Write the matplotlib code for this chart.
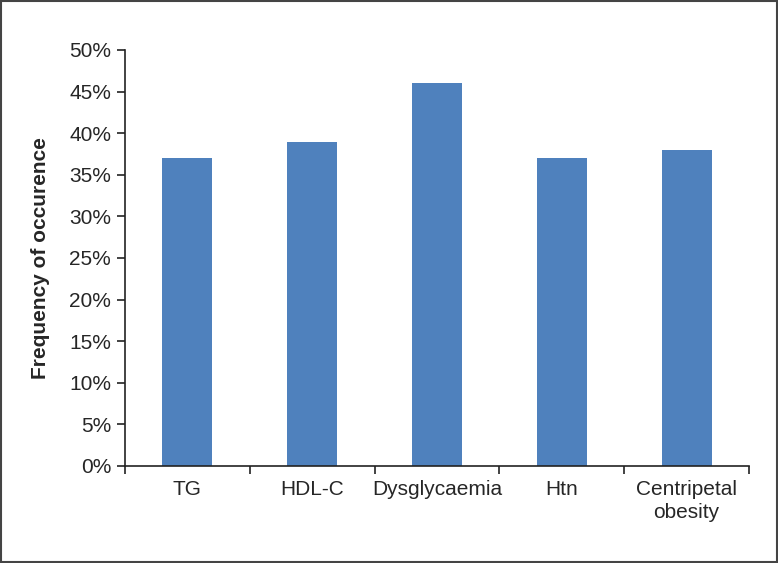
import numpy as np
import matplotlib.pyplot as plt
from matplotlib.ticker import PercentFormatter
from matplotlib.patches import Rectangle

plt.rcParams['font.family'] = ['Liberation Sans', 'DejaVu Sans']

categories = ["TG", "HDL-C", "Dysglycaemia", "Htn", "Centripetal\nobesity"]
values = [37, 39, 46, 37, 38]
y_ticks = [0, 5, 10, 15, 20, 25, 30, 35, 40, 45, 50]

fig = plt.figure(figsize=(7.78, 5.63), dpi=100)
ax = fig.add_axes([0.1607, 0.1723, 0.802, 0.7389])

x = np.arange(len(categories))
ax.bar(x, values, width=0.4, color='#4f81bd')

ax.set_xlim(-0.5, len(categories) - 0.5)
ax.set_ylim(0, 50)
ax.set_yticks(y_ticks)
ax.yaxis.set_major_formatter(PercentFormatter(decimals=0))

# labels in the middle, ticks on the category borders
ax.set_xticks(x)
ax.set_xticklabels(categories, fontsize=15, color='#262626', linespacing=1.3)
ax.tick_params(axis='x', which='major', length=0, pad=10)
ax.set_xticks(np.arange(-0.5, len(categories)), minor=True)
ax.tick_params(axis='x', which='minor', length=6, width=1.2, color='#222222', direction='out')
ax.tick_params(axis='y', length=6, width=1.2, color='#222222', labelsize=15,
               labelcolor='#262626', pad=4)

for side in ['top', 'right']:
    ax.spines[side].set_visible(False)
for side in ['left', 'bottom']:
    ax.spines[side].set_linewidth(1.2)
    ax.spines[side].set_color('#222222')

ax.set_ylabel("Frequency of occurence", fontsize=15, fontweight='bold',
              color='#262626', labelpad=14)

# frame round the whole picture
fig.patches.append(Rectangle((0.001, 0.001), 0.998, 0.998, transform=fig.transFigure,
                             fill=False, edgecolor='#444444', linewidth=1.5))

fig.savefig("out.png", dpi=100)
